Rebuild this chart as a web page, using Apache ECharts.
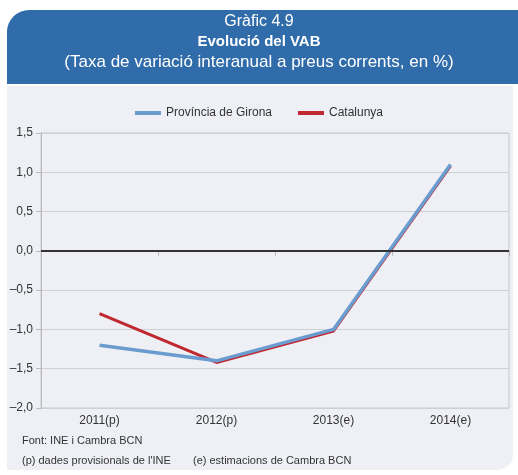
<!DOCTYPE html>
<html>
	<head>
		<meta charset="UTF-8">
		<title>Evolució del VAB</title>
		<style type="text/css">
			html,body{
				margin: 0;
				padding: 0;
				width: 100%;
				height: 100%;
				background: #fff;
			}
			#main{
				width: 518px;
				height: 475px;
			}
		</style>
	</head>
	<body>
		<div id="main"></div>
		<script src="https://cdn.jsdelivr.net/npm/echarts@6/dist/echarts.min.js"></script>
		<script>
			var years = ['2011(p)', '2012(p)', '2013(e)', '2014(e)'];
			var girona = [-1.2, -1.4, -1.0, 1.1];
			var catalunya = [-0.8, -1.42, -1.02, 1.08];
			var seriesNames = ['Província de Girona', 'Catalunya'];

			var font = "'Liberation Sans', Arial, sans-serif";

			var myChart = echarts.init(document.getElementById('main'));

			myChart.setOption({
				backgroundColor: '#fff',
				animation: false,
				graphic: [
					{ type: 'rect', z: -10, shape: { x: 7, y: 86, width: 506, height: 384, r: [0, 0, 16, 0] }, style: { fill: '#eef0f5' } },
					{ type: 'rect', z: -9, shape: { x: 7, y: 10, width: 511, height: 74, r: [22, 0, 0, 0] }, style: { fill: '#2f6ca9' } },
					{ type: 'text', left: 'center', top: 14, style: { text: 'Gràfic 4.9', fill: '#fff', font: '16px ' + font } },
					{ type: 'text', left: 'center', top: 34, style: { text: 'Evolució del VAB', fill: '#fff', font: 'bold 15px ' + font } },
					{ type: 'text', left: 'center', top: 54, style: { text: '(Taxa de variació interanual a preus corrents, en %)', fill: '#fff', font: '17px ' + font } },
					{ type: 'text', left: 22, top: 435, style: { text: 'Font: INE i Cambra BCN', fill: '#333', font: '11px ' + font } },
					{ type: 'text', left: 22, top: 455, style: { text: "(p) dades provisionals de l'INE", fill: '#333', font: '11px ' + font } },
					{ type: 'text', left: 193, top: 455, style: { text: '(e) estimacions de Cambra BCN', fill: '#333', font: '11px ' + font } }
				],
				legend: {
					top: 102,
					left: 'center',
					itemGap: 26,
					itemWidth: 26,
					itemHeight: 4,
					icon: 'rect',
					textStyle: { fontFamily: font, fontSize: 12, color: '#333' },
					data: seriesNames
				},
				grid: {
					left: 41,
					right: 9,
					top: 133,
					bottom: 67,
					show: true,
					borderColor: '#c8c8c8',
					borderWidth: 1,
					backgroundColor: 'transparent'
				},
				xAxis: {
					type: 'category',
					data: years,
					boundaryGap: true,
					axisLine: { lineStyle: { color: '#bbb' } },
					axisTick: { show: true, length: 5, lineStyle: { color: '#bbb' } },
					axisLabel: { fontFamily: font, fontSize: 12, color: '#333', margin: 7 },
					splitLine: { show: false }
				},
				yAxis: {
					type: 'value',
					min: -2,
					max: 1.5,
					interval: 0.5,
					axisLine: { show: true, lineStyle: { color: '#bbb' } },
					axisTick: { show: true, length: 5, lineStyle: { color: '#bbb' } },
					axisLabel: {
						fontFamily: font, fontSize: 12, color: '#333', margin: 8,
						formatter: function (v) { return v.toFixed(1).replace('.', ',').replace('-', '\u2013'); }
					},
					splitLine: { lineStyle: { color: '#cfcfd4' } }
				},
				series: [
					{
						name: seriesNames[1],
						type: 'line',
						data: catalunya,
						symbol: 'none',
						z: 2,
						lineStyle: { color: '#c0292f', width: 3 },
						itemStyle: { color: '#c0292f' }
					},
					{
						name: seriesNames[0],
						type: 'line',
						data: girona,
						symbol: 'none',
						z: 3,
						lineStyle: { color: '#6b9ccf', width: 3.5 },
						itemStyle: { color: '#6b9ccf' },
						markLine: {
							silent: true,
							symbol: 'none',
							label: { show: false },
							lineStyle: { color: '#333', width: 2, type: 'solid' },
							data: [{ yAxis: 0 }]
						}
					}
				]
			});
		</script>
	</body>
</html>
